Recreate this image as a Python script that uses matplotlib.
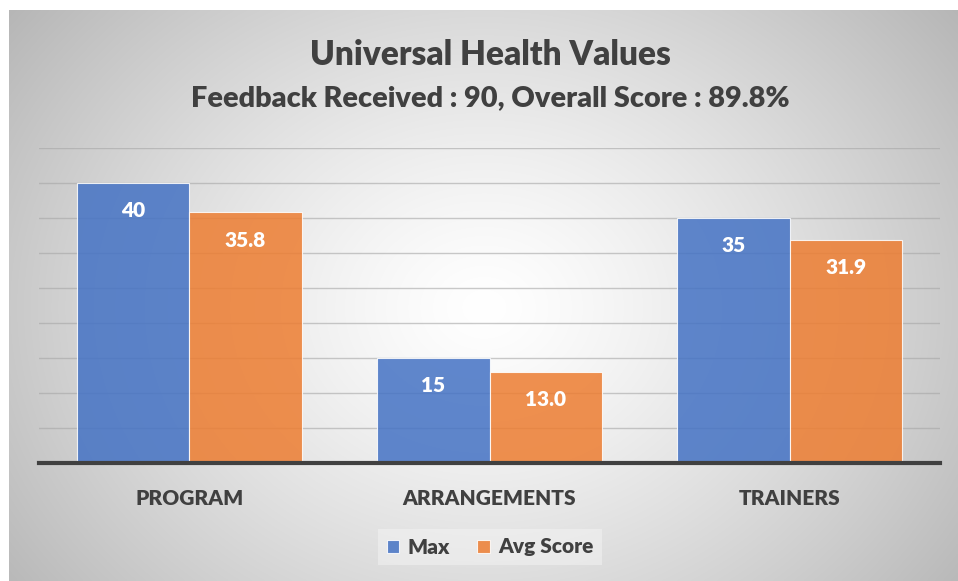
import numpy as np
import matplotlib
matplotlib.use("Agg")
import matplotlib.pyplot as plt

categories = ["PROGRAM", "ARRANGEMENTS", "TRAINERS"]
max_vals = [40, 15, 35]
avg_vals = [35.8, 13.0, 31.9]
max_labels = ["40", "15", "35"]
avg_labels = ["35.8", "13.0", "31.9"]
series_names = ["Max", "Avg Score"]
title = "Universal Health Values"
subtitle = "Feedback Received : 90, Overall Score : 89.8%"

plt.rcParams['font.family'] = ['Lato', 'DejaVu Sans']
WEIGHT = 'heavy'

W, H = 958, 581
fig = plt.figure(figsize=(W / 100, H / 100), dpi=100)
fig.patch.set_facecolor('white')

# radial gradient background
bg = fig.add_axes([9 / W, 0, 1 - 9 / W, 1 - 10 / H], zorder=0)
ny, nx = 300, 500
yy, xx = np.mgrid[0:ny, 0:nx]
cx, cy = nx * 0.50, ny * 0.52
r = np.sqrt(((xx - cx) / (nx * 0.55)) ** 2 + ((yy - cy) / (ny * 0.75)) ** 2)
val = 1.0 - 0.24 * np.clip(r, 0, 1.2) ** 1.3
img = np.dstack([val, val, val])
bg.imshow(img, aspect='auto', extent=[0, 1, 0, 1], interpolation='bilinear')
bg.set_axis_off()

ax = fig.add_axes([39 / W, 1 - 463 / H, (940 - 39) / W, (463 - 148) / H], zorder=1)
ax.patch.set_alpha(0)

x = np.arange(len(categories))
bw = 0.375
blue = '#4472C4'
orange = '#ED7D31'
b1 = ax.bar(x - bw / 2, max_vals, bw, color=blue, alpha=0.85, edgecolor='#ffffff', linewidth=0.8, zorder=3)
b2 = ax.bar(x + bw / 2, avg_vals, bw, color=orange, alpha=0.85, edgecolor='#ffffff', linewidth=0.8, zorder=3)

for bars, labs in ((b1, max_labels), (b2, avg_labels)):
    for rect, lab in zip(bars, labs):
        ax.annotate(lab, (rect.get_x() + rect.get_width() / 2, rect.get_height()),
                    xytext=(0, -20), textcoords='offset points', ha='center', va='center',
                    color='white', fontsize=15, fontweight=WEIGHT, zorder=5)

ax.set_xlim(-0.5, len(categories) - 0.5)
ax.set_ylim(0, 45)
ax.set_yticks(np.arange(5, 46, 5))
ax.yaxis.grid(True, color='#a6a6a6', linewidth=1.0, alpha=0.6, zorder=1)
ax.set_axisbelow(True)
ax.tick_params(axis='y', left=False, labelleft=False)
ax.tick_params(axis='x', bottom=False, pad=15)
ax.set_xticks(x)
ax.set_xticklabels(categories, fontsize=15, fontweight=WEIGHT, color='#404040')
for s in ('top', 'right', 'left'):
    ax.spines[s].set_visible(False)
ax.spines['bottom'].set_color('#404040')
ax.spines['bottom'].set_linewidth(3)
ax.spines['bottom'].set_zorder(6)

fig.text(490 / W, 1 - 55 / H, title, ha='center', va='center', fontsize=24,
         fontweight=WEIGHT, color='#404040')
fig.text(490 / W, 1 - 98 / H, subtitle, ha='center', va='center', fontsize=20.8,
         fontweight=WEIGHT, color='#404040')

leg = fig.legend([b1, b2], series_names, loc='center', bbox_to_anchor=(490 / W, 1 - 547 / H),
                 ncol=2, frameon=True, fontsize=15, handlelength=0.6, handleheight=0.6,
                 handletextpad=0.4, columnspacing=1.3, borderpad=0.4)
leg.get_frame().set_facecolor('#f4f4f4')
leg.get_frame().set_alpha(0.5)
leg.get_frame().set_edgecolor('none')
leg.get_frame().set_boxstyle('square', pad=0)
for t in leg.get_texts():
    t.set_color('#404040')
    t.set_fontweight(WEIGHT)

fig.savefig('out.png', dpi=100)
